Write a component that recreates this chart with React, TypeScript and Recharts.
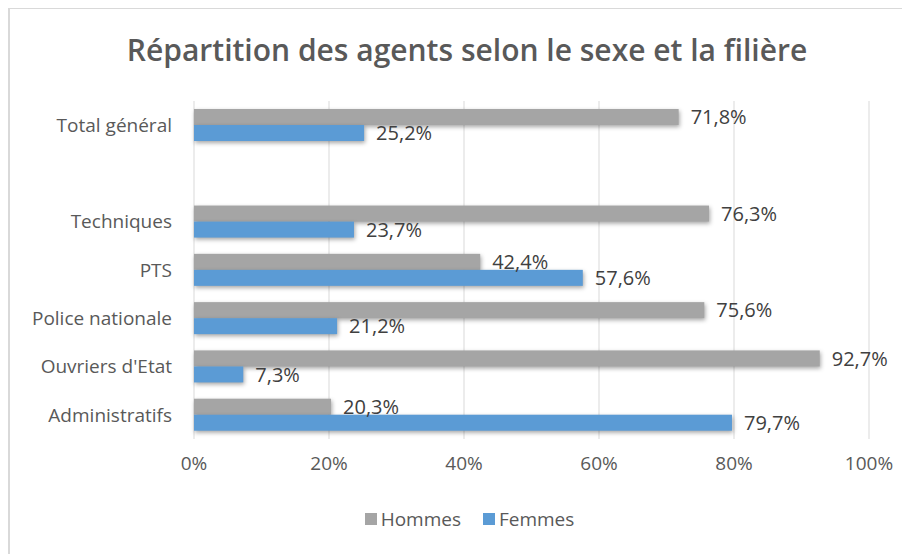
import React from 'react';
import {
 BarChart,
 Bar,
 XAxis,
 YAxis,
 CartesianGrid,
 Legend,
 LabelList
} from 'recharts';

// categories top -> bottom, '' is the empty row in the original
const categories = ['Total général', '', 'Techniques', 'PTS', 'Police nationale', "Ouvriers d'Etat", 'Administratifs'];
const hommes = [71.8, null, 76.3, 42.4, 75.6, 92.7, 20.3];
const femmes = [25.2, null, 23.7, 57.6, 21.2, 7.3, 79.7];
const xTicks = [0, 20, 40, 60, 80, 100];

const series = [
 { key: 'hommes', name: 'Hommes', color: '#A5A5A5' },
 { key: 'femmes', name: 'Femmes', color: '#5B9BD5' }
];

const data = categories.map((name, i) => ({ name, hommes: hommes[i], femmes: femmes[i] }));

const FONT = '"Open Sans", sans-serif';
const TEXT = '#595959';

const fmt = (v: any) => (v == null ? '' : `${Number(v).toFixed(1).replace('.', ',')}%`);

const ShadowBar = (props: any) => {
 const { x, y, width, height, fill } = props;
 if (!width || width <= 0) return null;
 return (
  <rect
   x={x}
   y={y}
   width={width}
   height={height}
   fill={fill}
   style={{ filter: 'drop-shadow(1px 2px 2px rgba(0,0,0,0.35))' }}
  />
 );
};

const renderLegend = () => (
 <div
  style={{
   display: 'flex',
   justifyContent: 'center',
   paddingLeft: 60,
   fontFamily: FONT,
   fontSize: 19,
   color: TEXT
  }}
 >
  {series.map((s) => (
   <div key={s.key} style={{ display: 'flex', alignItems: 'center', margin: '0 11px' }}>
    <span style={{ width: 12, height: 12, background: s.color, display: 'inline-block', marginRight: 4 }} />
    <span>{s.name}</span>
   </div>
  ))}
 </div>
);

export default function App() {
 return (
  <div
   style={{
    position: 'relative',
    width: 902,
    height: 546,
    marginTop: -1,
    borderTop: '2px solid #d9d9d9',
    borderLeft: '2px solid #d9d9d9',
    background: '#fff',
    fontFamily: FONT
   }}
  >
   <div
    style={{
     position: 'absolute',
     top: 20,
     left: 0,
     width: 914,
     textAlign: 'center',
     fontSize: 30,
     fontWeight: 600,
     color: TEXT
    }}
   >
    Répartition des agents selon le sexe et la filière
   </div>
   <BarChart
    width={900}
    height={544}
    data={data}
    layout="vertical"
    margin={{ top: 92, right: 41, bottom: 21, left: 0 }}
    barSize={16}
    barGap={0}
   >
    <CartesianGrid horizontal={false} stroke="#d9d9d9" />
    <XAxis
     type="number"
     domain={[0, 100]}
     ticks={xTicks}
     tickFormatter={(v) => `${v}%`}
     axisLine={false}
     tickLine={false}
     tickMargin={12}
     height={67}
     tick={{ fontSize: 19, fill: TEXT, fontFamily: FONT }}
    />
    <YAxis
     type="category"
     dataKey="name"
     width={184}
     axisLine={false}
     tickLine={false}
     tickMargin={16}
     interval={0}
     tick={{ fontSize: 19, fill: TEXT, fontFamily: FONT }}
    />
    <Legend verticalAlign="bottom" content={renderLegend} />
    {series.map((s) => (
     <Bar key={s.key} dataKey={s.key} name={s.name} fill={s.color} shape={ShadowBar} isAnimationActive={false}>
      <LabelList
       dataKey={s.key}
       position="right"
       offset={12}
       formatter={fmt}
       style={{ fontSize: 20, fill: '#404040', fontFamily: FONT }}
      />
     </Bar>
    ))}
   </BarChart>
  </div>
 );
}
